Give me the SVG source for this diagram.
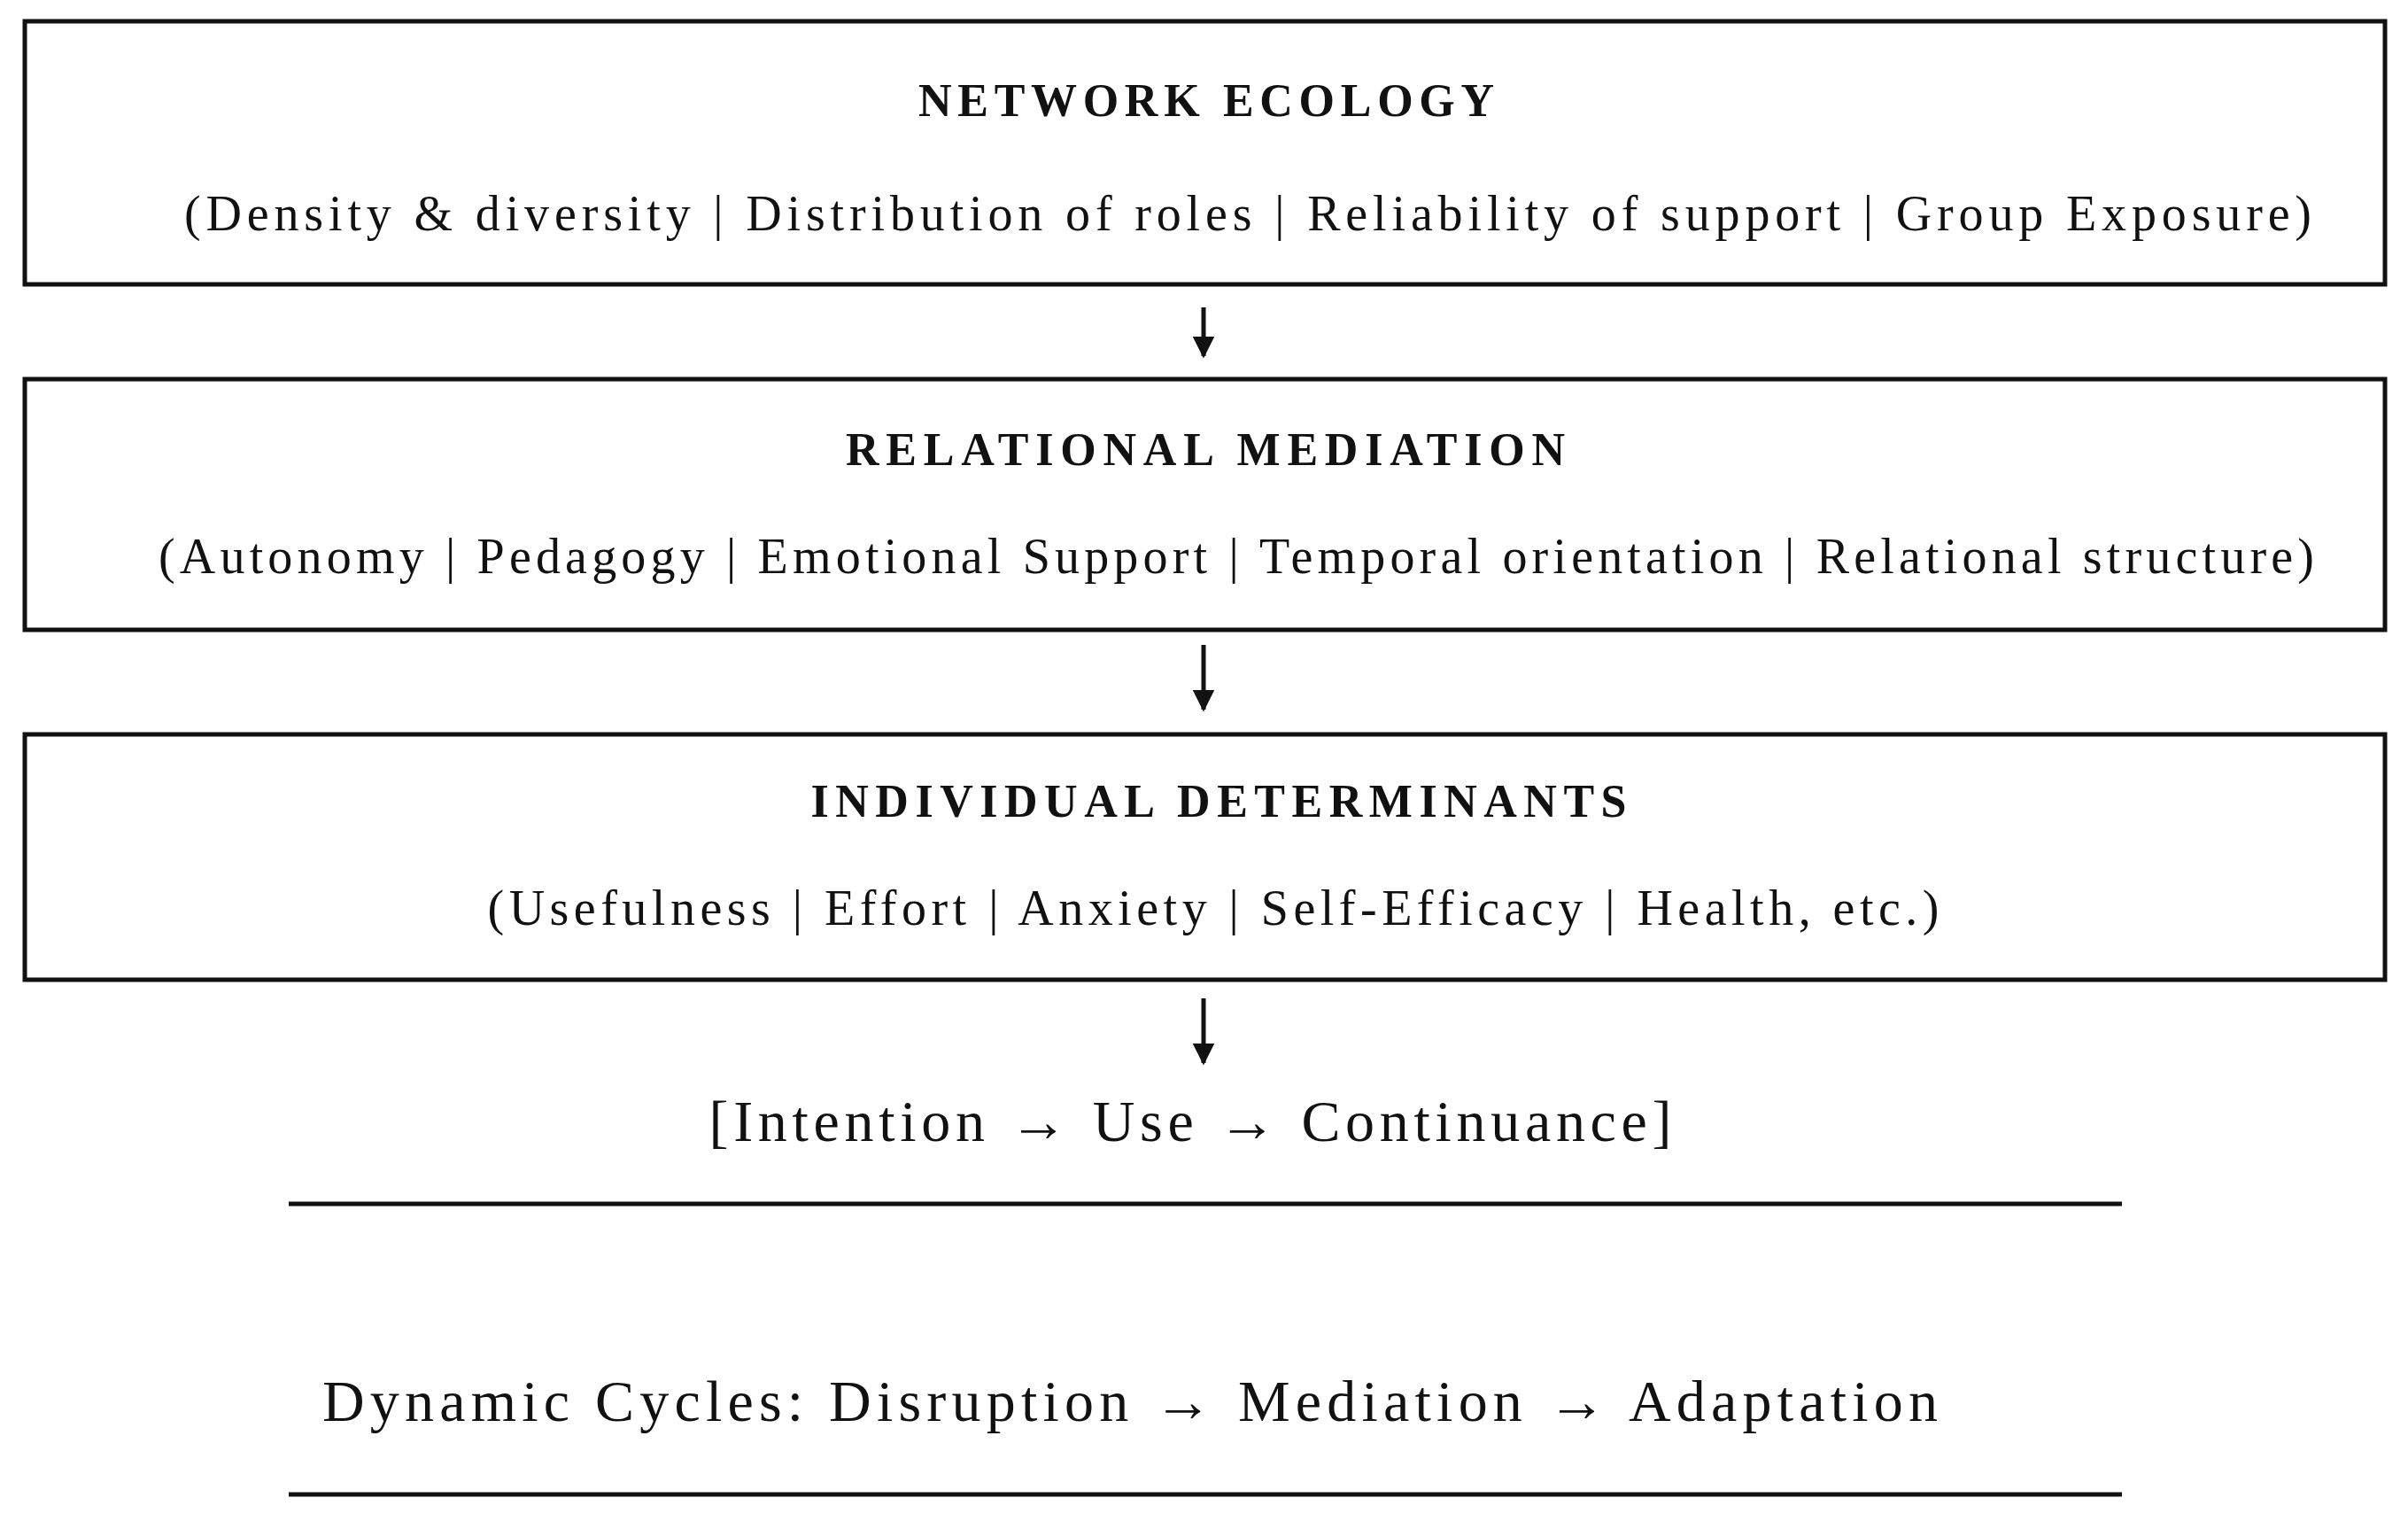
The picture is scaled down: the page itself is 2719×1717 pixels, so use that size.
<svg xmlns="http://www.w3.org/2000/svg" width="2719" height="1717" viewBox="0 0 2719 1717">
<defs>
<style>
.box{fill:#fff;stroke:#111;stroke-width:5}
.t{font-family:"Liberation Serif",serif;font-weight:bold;font-size:52px;text-anchor:middle;fill:#111}
.s{font-family:"Liberation Serif",serif;font-size:56px;text-anchor:middle;fill:#111}
.b{font-family:"Liberation Serif",serif;font-size:66px;text-anchor:middle;fill:#111}
.c{stroke:#111;stroke-width:5;fill:none}
</style>
<marker id="ah" viewBox="0 0 10 10" refX="9" refY="5" markerWidth="5" markerHeight="5" orient="auto"><path d="M0,0L10,5L0,10z" fill="#111"/></marker>
</defs>
<rect width="2719" height="1717" fill="#fff"/>
<g id="network-ecology">
<rect class="box" x="28" y="24" width="2665" height="297"/>
<text class="t" x="1362" y="131" textLength="650" lengthAdjust="spacing">NETWORK ECOLOGY</text>
<text class="s" x="1409" y="260" textLength="2402" lengthAdjust="spacing">(Density &amp; diversity  |  Distribution of roles  |  Reliability of support  |  Group Exposure)</text>
</g>
<g id="relational-mediation">
<rect class="box" x="28" y="428" width="2665" height="283"/>
<text class="t" x="1361" y="525" textLength="812" lengthAdjust="spacing">RELATIONAL MEDIATION</text>
<text class="s" x="1396" y="647" textLength="2434" lengthAdjust="spacing">(Autonomy  |  Pedagogy  |  Emotional Support  |  Temporal orientation  |  Relational structure)</text>
</g>
<g id="individual-determinants">
<rect class="box" x="28" y="829" width="2665" height="277"/>
<text class="t" x="1376" y="922" textLength="921" lengthAdjust="spacing">INDIVIDUAL DETERMINANTS</text>
<text class="s" x="1370" y="1044" textLength="1639" lengthAdjust="spacing">(Usefulness  |  Effort  |  Anxiety  |  Self-Efficacy  |  Health, etc.)</text>
</g>
<g id="outcome">
<text class="b" x="1344" y="1288" textLength="1087" lengthAdjust="spacing">[Intention → Use → Continuance]</text>
</g>
<g id="dynamic-cycles">
<text class="b" x="1276" y="1604" textLength="1824" lengthAdjust="spacing">Dynamic Cycles: Disruption → Mediation → Adaptation</text>
</g>
<g id="connectors">
<line class="c" x1="1359" y1="347" x2="1359" y2="402" marker-end="url(#ah)"/>
<line class="c" x1="1359" y1="728" x2="1359" y2="801" marker-end="url(#ah)"/>
<line class="c" x1="1359" y1="1127" x2="1359" y2="1200" marker-end="url(#ah)"/>
<line class="c" x1="326" y1="1359" x2="2396" y2="1359"/>
<line class="c" x1="326" y1="1687" x2="2396" y2="1687"/>
</g>
</svg>
